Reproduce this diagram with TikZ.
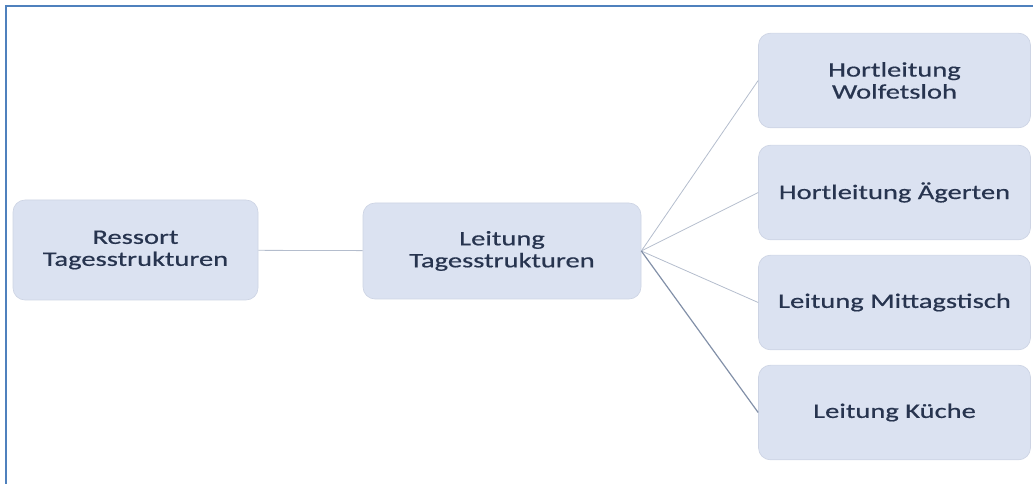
\documentclass[tikz,border=0pt]{standalone}
\usepackage{fontspec}
\setmainfont{Carlito}[FakeStretch=1.38, FakeBold=0.6]
\usepackage{tikz}
\definecolor{boxfill}{HTML}{DBE2F1}
\definecolor{boxline}{HTML}{CDD4E4}
\definecolor{boxtext}{HTML}{27344F}
\definecolor{frameblue}{HTML}{4F81BD}
\definecolor{edgegray}{HTML}{B4BDCD}
\definecolor{edgedark}{HTML}{8290A8}

\begin{document}
\begin{tikzpicture}[x=0.75pt, y=-0.75pt,
  box/.style = {draw=boxline, line width=0.5pt, fill=boxfill, rounded corners=9pt,
    text=boxtext, align=center, font=\fontsize{15.5}{16.5}\selectfont},
  edge/.style = {draw=edgegray, line width=0.6pt}]
\useasboundingbox (0,0) rectangle (1033,484);
\draw[frameblue, line width=1.5pt] (6,484) -- (6,6) -- (1033,6);
\node[box, minimum width=183.75pt, minimum height=75pt] (ressort) at (135.5,250) {Ressort\\Tagesstrukturen};
\node[box, minimum width=208.5pt, minimum height=72pt] (leitung) at (502,251) {Leitung\\Tagesstrukturen};
\node[box, minimum width=204pt, minimum height=71pt] (hortw) at (894.5,80.5) {Hortleitung\\Wolfetsloh};
\node[box, minimum width=204pt, minimum height=71pt] (horta) at (894.5,192.5) {Hortleitung Ägerten};
\node[box, minimum width=204pt, minimum height=71pt] (mittag) at (894.5,302.5) {Leitung Mittagstisch};
\node[box, minimum width=204pt, minimum height=71pt] (kueche) at (894.5,412.5) {Leitung Küche};
\draw[edge] (ressort) -- (leitung);
\draw[edge] (leitung.east) -- (hortw.west);
\draw[edge] (leitung.east) -- (horta.west);
\draw[edge] (leitung.east) -- (mittag.west);
\draw[edge, draw=edgedark, line width=0.9pt] (leitung.east) -- (kueche.west);
\end{tikzpicture}
\end{document}
